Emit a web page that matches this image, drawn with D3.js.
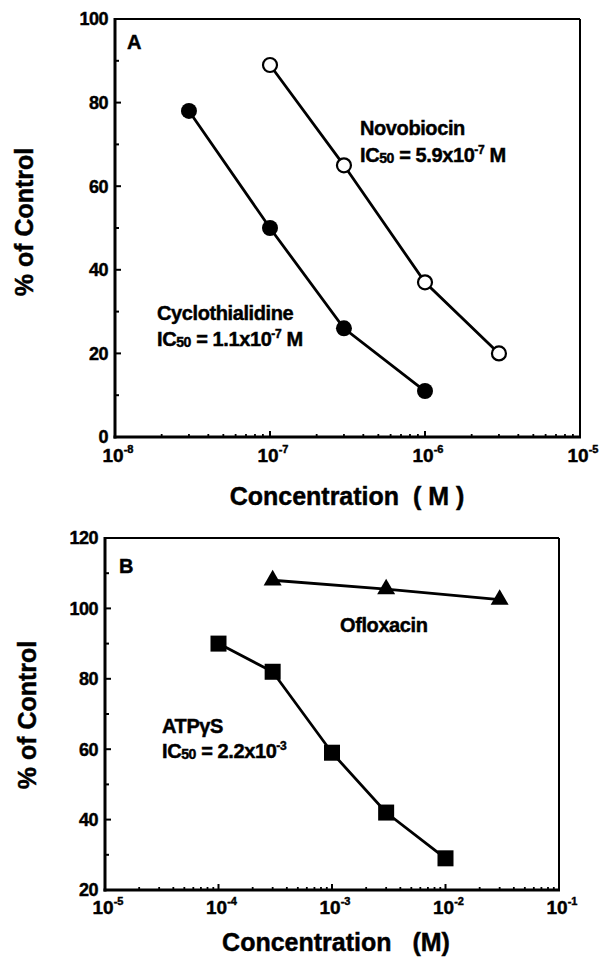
<!DOCTYPE html>
<html><head><meta charset="utf-8">
<script src="https://cdn.jsdelivr.net/npm/d3@7"></script>
<style>
body{margin:0;background:#fff;}
text{font-family:"Liberation Sans",Arial,sans-serif;font-weight:bold;fill:#000;stroke:#000;stroke-width:0.45px;}
</style></head>
<body><svg id="c" width="608" height="958"></svg>
<script>
// ---- Data ----
const cycloConc = [3e-8, 1e-7, 3e-7, 1e-6];
const cycloVals = [78, 50, 26, 11];
const novoConc = [1e-7, 3e-7, 1e-6, 3e-6];
const novoVals = [89, 65, 37, 20];
const oflxConc = [3e-4, 3e-3, 3e-2];
const oflxVals = [108, 105.5, 102.5];
const atpConc = [1e-4, 3e-4, 1e-3, 3e-3, 1e-2];
const atpVals = [90, 82, 59, 42, 29];
const yTicksA = [0, 20, 40, 60, 80, 100];
const yTicksB = [20, 40, 60, 80, 100, 120];
const xExpA = [-8, -7, -6, -5];
const xExpB = [-5, -4, -3, -2, -1];

const svg = d3.select("#c");

function panel(o) {
  const x = d3.scaleLog().domain(o.xd).range([o.l, o.r]);
  const y = d3.scaleLinear().domain(o.yd).range([o.b, o.t]);
  const g = svg.append("g");
  // frame
  g.append("line").attr("x1", o.l).attr("x2", o.r).attr("y1", o.t).attr("y2", o.t).attr("stroke", "#000").attr("stroke-width", 2);
  g.append("line").attr("x1", o.r).attr("x2", o.r).attr("y1", o.t).attr("y2", o.b).attr("stroke", "#000").attr("stroke-width", 2);
  g.append("line").attr("x1", o.l).attr("x2", o.l).attr("y1", o.t - 1).attr("y2", o.b + 1.5).attr("stroke", "#000").attr("stroke-width", 3);
  g.append("line").attr("x1", o.l - 1.5).attr("x2", o.r + 1).attr("y1", o.b).attr("y2", o.b).attr("stroke", "#000").attr("stroke-width", 3);
  // y ticks (major + minor)
  const step = o.yt[1] - o.yt[0];
  o.yt.forEach(v => {
    g.append("line").attr("x1", o.l).attr("x2", o.l + 6).attr("y1", y(v)).attr("y2", y(v)).attr("stroke", "#000").attr("stroke-width", 2);
    g.append("text").attr("x", o.l - 7).attr("y", y(v)).attr("dy", "0.36em").attr("text-anchor", "end")
      .attr("font-size", 18).attr("letter-spacing", -0.5).text(v);
    if (v + step / 2 < o.yd[1]) {
      g.append("line").attr("x1", o.l).attr("x2", o.l + 4).attr("y1", y(v + step / 2)).attr("y2", y(v + step / 2)).attr("stroke", "#000").attr("stroke-width", 2);
    }
  });
  // x ticks
  for (let e = o.xe[0]; e < o.xe[o.xe.length - 1]; e++) {
    for (let m = 2; m <= 9; m++) {
      const v = m * Math.pow(10, e);
      g.append("line").attr("x1", x(v)).attr("x2", x(v)).attr("y1", o.b).attr("y2", o.b - 3).attr("stroke", "#000").attr("stroke-width", 1.8);
    }
  }
  o.xe.forEach(e => {
    const v = Math.pow(10, e);
    g.append("line").attr("x1", x(v)).attr("x2", x(v)).attr("y1", o.b).attr("y2", o.b - 6).attr("stroke", "#000").attr("stroke-width", 2);
    const t = g.append("text").attr("x", x(v) + 3).attr("y", o.b + o.xlDy).attr("text-anchor", "middle").attr("font-size", 19);
    t.append("tspan").attr("letter-spacing", 0).text("10");
    t.append("tspan").attr("dy", -9).attr("font-size", 11).text(String(e));
  });
  // axis titles
  g.append("text").attr("x", o.xtX).attr("y", o.xtY).attr("text-anchor", "middle").attr("font-size", 25)
    .style("white-space", "pre").text(o.xTitle);
  g.append("text").attr("transform", `translate(${o.ytX},${o.ytY}) rotate(-90)`).attr("text-anchor", "middle")
    .attr("font-size", 25).text("% of Control");
  g.append("text").attr("x", o.l + o.lblDx).attr("y", o.t + o.lblDy).attr("font-size", 20).text(o.label);
  return {x, y, g};
}

const A = panel({xd: [1e-8, 1e-5], yd: [0, 100], l: 115, r: 580, t: 19, b: 437, yt: yTicksA, xe: xExpA,
  xlDy: 25, xTitle: "Concentration  ( M )", xtX: 347, xtY: 505, ytX: 33, ytY: 222, label: "A", lblDx: 12, lblDy: 30});
const B = panel({xd: [1e-5, 1e-1], yd: [20, 120], l: 105, r: 559, t: 538, b: 890, yt: yTicksB, xe: xExpB,
  xlDy: 24, xTitle: "Concentration   (M)", xtX: 336, xtY: 951, ytX: 36, ytY: 715, label: "B", lblDx: 14, lblDy: 35});

function series(P, xs, ys, shape) {
  const pts = xs.map((c, i) => [P.x(c), P.y(ys[i])]);
  P.g.append("path").attr("d", d3.line()(pts)).attr("fill", "none").attr("stroke", "#000").attr("stroke-width", 2.8);
  pts.forEach(p => {
    if (shape === "fc") P.g.append("circle").attr("cx", p[0]).attr("cy", p[1]).attr("r", 8).attr("fill", "#000");
    else if (shape === "oc") P.g.append("circle").attr("cx", p[0]).attr("cy", p[1]).attr("r", 7).attr("fill", "#fff").attr("stroke", "#000").attr("stroke-width", 2.2);
    else if (shape === "sq") P.g.append("rect").attr("x", p[0] - 8).attr("y", p[1] - 8).attr("width", 16).attr("height", 16).attr("fill", "#000");
    else if (shape === "tr") P.g.append("path").attr("d", d3.symbol(d3.symbolTriangle, 140)()).attr("transform", `translate(${p[0]},${p[1]})`).attr("fill", "#000");
  });
}
series(A, cycloConc, cycloVals, "fc");
series(A, novoConc, novoVals, "oc");
series(B, oflxConc, oflxVals, "tr");
series(B, atpConc, atpVals, "sq");

function ic(g, x, y, gap, name, val, exp, unit) {
  g.append("text").attr("x", x).attr("y", y).attr("font-size", 20).attr("letter-spacing", -0.4).text(name);
  const t = g.append("text").attr("x", x).attr("y", y + gap).attr("font-size", 20).attr("letter-spacing", -0.4);
  t.append("tspan").text("IC");
  t.append("tspan").attr("font-size", 14).attr("dy", 1).text("50");
  t.append("tspan").attr("dy", -1).text(" = " + val + "x10");
  t.append("tspan").attr("font-size", 12).attr("dy", -8).text(exp);
  if (unit) t.append("tspan").attr("dy", 8).text(" " + unit);
}
ic(A.g, 360, 135, 27, "Novobiocin", "5.9", "-7", "M");
ic(A.g, 157, 320, 26, "Cyclothialidine", "1.1", "-7", "M");
ic(B.g, 162, 733, 25, "ATPγS", "2.2", "-3", "");
B.g.append("text").attr("x", 340).attr("y", 632).attr("font-size", 20).attr("letter-spacing", -0.4).text("Ofloxacin");
</script></body></html>
